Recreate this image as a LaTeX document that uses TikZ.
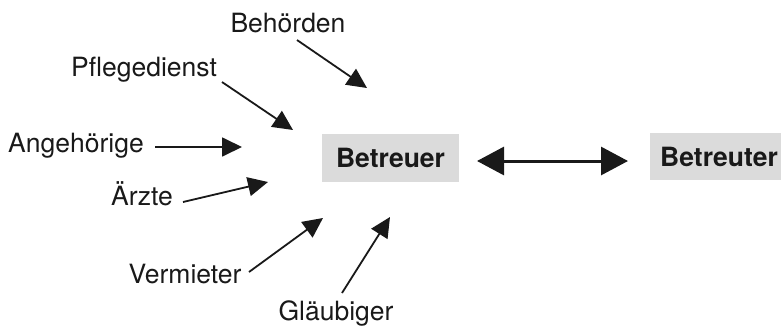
\documentclass[tikz,border=0pt]{standalone}
\usepackage{fontspec}
\setmainfont{TeX Gyre Heros}
\usetikzlibrary{arrows.meta}
\begin{document}
\begin{tikzpicture}[x=1pt,y=-1pt,
  lbl/.style={font=\fontsize{26.5}{30}\selectfont, inner sep=0pt, text=black!90},
  boxnode/.style={fill=black!14, font=\bfseries\fontsize{26.5}{30}\selectfont, inner sep=0pt, text=black!90},
  inarrow/.style={-{Triangle[length=20pt,width=19pt]}, line width=1.8pt, black!90},
  bigarrow/.style={{Triangle[length=27pt,width=28pt]}-{Triangle[length=27pt,width=28pt]}, line width=3pt, black!90}]
\useasboundingbox (0,0) rectangle (781,327);
\node[boxnode, minimum width=137pt, minimum height=48pt] (btr) at (390.5,158) {Betreuer};
\node[boxnode, minimum width=131pt, minimum height=47pt] (bte) at (715.5,156.5) {};
\node[font=\bfseries\fontsize{26.5}{30}\selectfont, inner sep=0pt, text=black!90] (btetext) at (719,157) {Betreuter};
\node[lbl] (beh) at (288,23) {Behörden};
\node[lbl] (pfl) at (144,70) {Pflegedienst};
\node[lbl] (ang) at (76,146) {Angehörige};
\node[lbl] (arz) at (142,194) {Ärzte};
\node[lbl] (ver) at (185,274) {Vermieter};
\node[lbl] (gla) at (336,313) {Gläubiger};
\coordinate (behS) at (297,40);  \coordinate (behT) at (367,88);
\coordinate (pflS) at (222,82);  \coordinate (pflT) at (293,130);
\coordinate (angS) at (155,147); \coordinate (angT) at (242,147);
\coordinate (arzS) at (183,202); \coordinate (arzT) at (268,182);
\coordinate (verS) at (249,272); \coordinate (verT) at (323,218);
\coordinate (glaS) at (342,293); \coordinate (glaT) at (390,217);
\draw[inarrow] (behS) -- (behT);
\draw[inarrow] (pflS) -- (pflT);
\draw[inarrow] (angS) -- (angT);
\draw[inarrow] (arzS) -- (arzT);
\draw[inarrow] (verS) -- (verT);
\draw[inarrow] (glaS) -- (glaT);
\coordinate (dL) at (477,161);
\coordinate (dR) at (628,161);
\draw[bigarrow] (dL) -- (dR);
\end{tikzpicture}
\end{document}
